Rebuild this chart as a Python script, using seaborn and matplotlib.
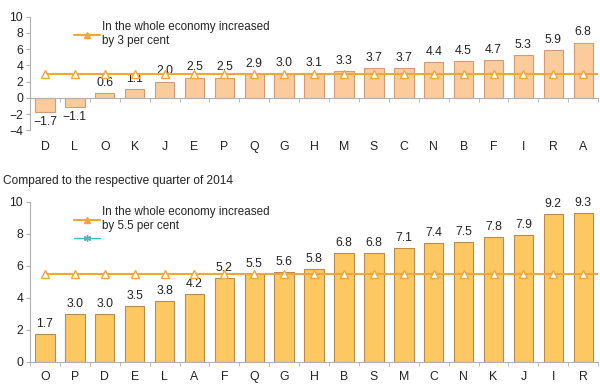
import numpy as np
import pandas as pd
import seaborn as sns
import matplotlib.pyplot as plt
from matplotlib.lines import Line2D
from matplotlib.ticker import MultipleLocator

sections_q = ["D", "L", "O", "K", "J", "E", "P", "Q", "G", "H", "M", "S", "C", "N", "B", "F", "I", "R", "A"]
growth_q = [-1.7, -1.1, 0.6, 1.1, 2.0, 2.5, 2.5, 2.9, 3.0, 3.1, 3.3, 3.7, 3.7, 4.4, 4.5, 4.7, 5.3, 5.9, 6.8]
economy_q = 3.0

sections_y = ["O", "P", "D", "E", "L", "A", "F", "Q", "G", "H", "B", "S", "M", "C", "N", "K", "J", "I", "R"]
growth_y = [1.7, 3.0, 3.0, 3.5, 3.8, 4.2, 5.2, 5.5, 5.6, 5.8, 6.8, 6.8, 7.1, 7.4, 7.5, 7.8, 7.9, 9.2, 9.3]
economy_y = 5.5

sns.set_style("white")
plt.rcParams["font.family"] = ["Liberation Sans", "DejaVu Sans"]
plt.rcParams["axes.unicode_minus"] = True

fig = plt.figure(figsize=(6, 3.86), dpi=100)
ax1 = fig.add_axes([0.05, 0.662, 0.947, 0.295])
ax2 = fig.add_axes([0.05, 0.063, 0.947, 0.4145])

line_col = "#F2A63A"
grey = "#B0B0B0"


def draw(ax, cats, vals, econ, bar_col, edge_col, ylim, label, pad, extra_legend):
    df = pd.DataFrame({"section": cats, "growth": vals})
    sns.barplot(data=df, x="section", y="growth", color=bar_col, edgecolor=edge_col,
                linewidth=0.8, width=0.65, saturation=1, ax=ax)
    for c in ax.containers:
        labels = [f"{v:.1f}".replace("-", "\u2212") for v in c.datavalues]
        ax.bar_label(c, labels=labels, padding=3, fontsize=8.8, color="#222222")
    n = len(cats)
    # economy-wide line runs from the first marker to the right edge
    ax.plot([0, n - 0.5], [econ, econ], color=line_col, linewidth=1.5, zorder=3)
    sns.lineplot(x=np.arange(n), y=[econ] * n, color=line_col, linewidth=0, marker="^",
                 markersize=6, markerfacecolor="white", markeredgecolor=line_col,
                 markeredgewidth=1.0, ax=ax, zorder=4)
    ax.set_xlim(-0.5, n - 0.5)
    ax.set_ylim(*ylim)
    ax.yaxis.set_major_locator(MultipleLocator(2))
    ax.set_xlabel("")
    ax.set_ylabel("")
    for s in ["top", "right"]:
        ax.spines[s].set_visible(False)
    ax.spines["left"].set_color(grey)
    ax.spines["bottom"].set_color(grey)
    ax.spines["bottom"].set_position(("data", 0))
    ax.tick_params(axis="y", left=True, length=3, color=grey, labelsize=8.8, pad=2, labelcolor="#222222")
    ax.set_xticks(np.arange(n))
    ax.set_xticklabels(cats)
    ax.set_xticks(np.arange(n + 1) - 0.5, minor=True)
    ax.tick_params(axis="x", which="major", length=0, pad=pad, labelsize=8.8, labelcolor="#222222")
    ax.tick_params(axis="x", which="minor", bottom=True, length=3, color=grey)
    handles = [Line2D([], [], color=line_col, marker="^", markersize=4, linewidth=1.5)]
    labels = [label]
    if extra_legend:
        handles.append(Line2D([], [], color="#4DB6C4", marker=(6, 2, 0), markersize=5, linewidth=1.0))
        labels.append(" ")
    ax.legend(handles, labels, loc="upper left", bbox_to_anchor=(0.069, 1.0), frameon=False,
              fontsize=8.4, handlelength=2.2, handletextpad=0.2, labelspacing=0.1,
              borderaxespad=0)


draw(ax1, sections_q, growth_q, economy_q, "#FBCB9C", "#D39A74", (-4, 10),
     "In the whole economy increased\nby 3 per cent", 31, False)
draw(ax2, sections_y, growth_y, economy_y, "#FDC761", "#B98B4C", (0, 10),
     "In the whole economy increased\nby 5.5 per cent", 7, True)

fig.text(0.005, 0.531, "Compared to the respective quarter of 2014", fontsize=8.6,
         va="center", ha="left", color="#222222")

fig.savefig("out.png", dpi=100)
